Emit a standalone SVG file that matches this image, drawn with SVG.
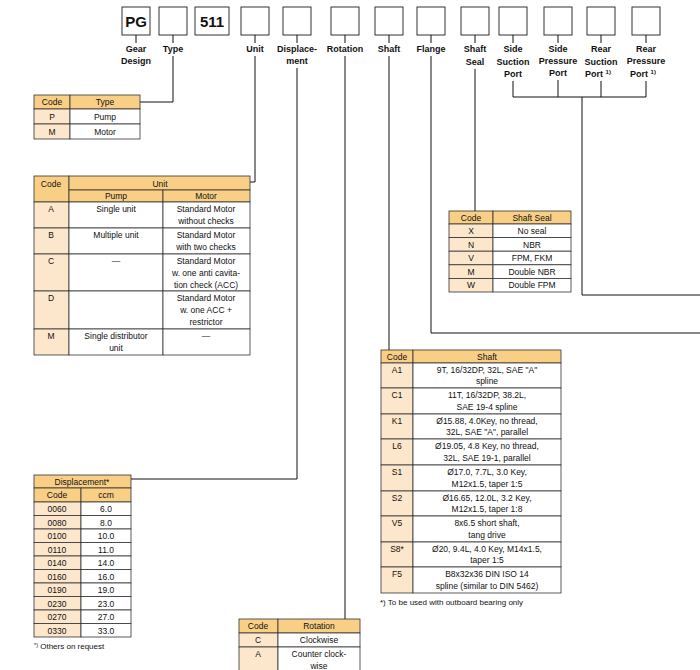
<svg xmlns="http://www.w3.org/2000/svg" width="700" height="670" viewBox="0 0 700 670">
<style>
text{font-family:"Liberation Sans",Arial,sans-serif;font-size:8.5px;fill:#111;text-anchor:middle}
.lb{font-weight:bold;font-size:9px}
.big{font-weight:bold;font-size:15px}
.bx{fill:#fff;stroke:#333;stroke-width:1}
.h{fill:#f9cf86;stroke:#333;stroke-width:0.8}
.c{fill:#fde7cc;stroke:#333;stroke-width:0.8}
.w{fill:#fff;stroke:#333;stroke-width:0.8}
.ln{fill:none;stroke:#111;stroke-width:1}
.fn{text-anchor:start;font-size:8px}
</style>
<g id="code-boxes">
<rect class="bx" x="122" y="7" width="28" height="28"/><text class="big" x="136" y="27">PG</text>
<rect class="bx" x="159" y="7" width="28" height="28"/>
<rect class="bx" x="195" y="7" width="34" height="28"/><text class="big" x="212" y="27">511</text>
<rect class="bx" x="241" y="7" width="28" height="28"/>
<rect class="bx" x="283" y="7" width="28" height="28"/>
<rect class="bx" x="331" y="7" width="28" height="28"/>
<rect class="bx" x="375" y="7" width="28" height="28"/>
<rect class="bx" x="417" y="7" width="28" height="28"/>
<rect class="bx" x="461" y="7" width="28" height="28"/>
<rect class="bx" x="499" y="7" width="28" height="28"/>
<rect class="bx" x="544" y="7" width="28" height="28"/>
<rect class="bx" x="587" y="7" width="28" height="28"/>
<rect class="bx" x="632" y="7" width="28" height="28"/>
</g>
<g id="labels">
<text class="lb" x="136" y="52">Gear</text><text class="lb" x="136" y="64">Design</text>
<text class="lb" x="173" y="52">Type</text>
<text class="lb" x="255" y="52">Unit</text>
<text class="lb" x="297" y="52">Displace-</text><text class="lb" x="297" y="64">ment</text>
<text class="lb" x="345" y="52">Rotation</text>
<text class="lb" x="389" y="52">Shaft</text>
<text class="lb" x="431" y="52">Flange</text>
<text class="lb" x="475" y="52">Shaft</text><text class="lb" x="475" y="65">Seal</text>
<text class="lb" x="513" y="52">Side</text><text class="lb" x="513" y="65">Suction</text><text class="lb" x="513" y="77">Port</text>
<text class="lb" x="558" y="52">Side</text><text class="lb" x="558" y="64">Pressure</text><text class="lb" x="558" y="76">Port</text>
<text class="lb" x="601" y="52">Rear</text><text class="lb" x="601" y="65">Suction</text><text class="lb" x="598" y="77">Port <tspan font-size="6" dy="-3">1)</tspan></text>
<text class="lb" x="646" y="52">Rear</text><text class="lb" x="646" y="64">Pressure</text><text class="lb" x="643" y="77">Port <tspan font-size="6" dy="-3">1)</tspan></text>
</g>
<g id="connectors" class="ln">
<path class="ln" d="M136 35V43M173 35V43M255 35V43M297 35V43M345 35V43M389 35V43M431 35V43M475 35V43M513 35V43M558 35V43M601 35V43M646 35V43"/>
<path class="ln" d="M173 56V102H140"/>
<path class="ln" d="M255 56V182H250"/>
<path class="ln" d="M297 68V479H131"/>
<path class="ln" d="M345 56V619"/>
<path class="ln" d="M389 56V350"/>
<path class="ln" d="M431 56V333H700"/>
<path class="ln" d="M475 69V211"/>
<path class="ln" d="M513 81V97H646V81M558 80V97M601 81V97M582 97V295H700"/>
</g>
<g id="type-table">
<rect class="h" x="34" y="95" width="36" height="14"/><rect class="h" x="70" y="95" width="70" height="14"/>
<text x="52" y="105">Code</text><text x="105" y="105">Type</text>
<rect class="c" x="34" y="109" width="36" height="15"/><rect class="w" x="70" y="109" width="70" height="15"/>
<text x="52" y="120">P</text><text x="105" y="120">Pump</text>
<rect class="c" x="34" y="124" width="36" height="15"/><rect class="w" x="70" y="124" width="70" height="15"/>
<text x="52" y="135">M</text><text x="105" y="135">Motor</text>
</g>
<g id="unit-table">
<rect class="h" x="34" y="176" width="35" height="26"/><rect class="h" x="69" y="176" width="181" height="14"/>
<rect class="h" x="69" y="190" width="94" height="12"/><rect class="h" x="163" y="190" width="87" height="12"/>
<text x="51" y="187">Code</text><text x="160" y="187">Unit</text><text x="116" y="199">Pump</text><text x="206" y="199">Motor</text>
<rect class="c" x="34" y="202" width="35" height="26"/><rect class="w" x="69" y="202" width="94" height="26"/><rect class="w" x="163" y="202" width="87" height="26"/>
<text x="51" y="212">A</text><text x="116" y="212">Single unit</text><text x="206" y="212">Standard Motor</text><text x="206" y="224">without checks</text>
<rect class="c" x="34" y="228" width="35" height="26"/><rect class="w" x="69" y="228" width="94" height="26"/><rect class="w" x="163" y="228" width="87" height="26"/>
<text x="51" y="238">B</text><text x="116" y="238">Multiple unit</text><text x="206" y="238">Standard Motor</text><text x="206" y="250">with two checks</text>
<rect class="c" x="34" y="254" width="35" height="37"/><rect class="w" x="69" y="254" width="94" height="37"/><rect class="w" x="163" y="254" width="87" height="37"/>
<text x="51" y="264">C</text><text x="116" y="264">—</text><text x="206" y="264">Standard Motor</text><text x="206" y="276">w. one anti cavita-</text><text x="206" y="288">tion check (ACC)</text>
<rect class="c" x="34" y="291" width="35" height="38"/><rect class="w" x="69" y="291" width="94" height="38"/><rect class="w" x="163" y="291" width="87" height="38"/>
<text x="51" y="301">D</text><text x="206" y="301">Standard Motor</text><text x="206" y="313">w. one ACC +</text><text x="206" y="325">restrictor</text>
<rect class="c" x="34" y="329" width="35" height="26"/><rect class="w" x="69" y="329" width="94" height="26"/><rect class="w" x="163" y="329" width="87" height="26"/>
<text x="51" y="339">M</text><text x="116" y="339">Single distributor</text><text x="116" y="351">unit</text><text x="206" y="339">—</text>
</g>
<g id="displacement-table">
<rect class="h" x="34" y="475" width="97" height="13"/><text x="82" y="485">Displacement*</text>
<rect class="h" x="34" y="488" width="47" height="14"/><rect class="h" x="81" y="488" width="50" height="14"/>
<text x="57" y="498">Code</text><text x="106" y="498">ccm</text>
<g>
<rect class="c" x="34" y="502" width="47" height="13.5"/><rect class="w" x="81" y="502" width="50" height="13.5"/>
<rect class="c" x="34" y="515.5" width="47" height="13.5"/><rect class="w" x="81" y="515.5" width="50" height="13.5"/>
<rect class="c" x="34" y="529" width="47" height="13.5"/><rect class="w" x="81" y="529" width="50" height="13.5"/>
<rect class="c" x="34" y="542.5" width="47" height="13.5"/><rect class="w" x="81" y="542.5" width="50" height="13.5"/>
<rect class="c" x="34" y="556" width="47" height="13.5"/><rect class="w" x="81" y="556" width="50" height="13.5"/>
<rect class="c" x="34" y="569.5" width="47" height="13.5"/><rect class="w" x="81" y="569.5" width="50" height="13.5"/>
<rect class="c" x="34" y="583" width="47" height="13.5"/><rect class="w" x="81" y="583" width="50" height="13.5"/>
<rect class="c" x="34" y="596.5" width="47" height="13.5"/><rect class="w" x="81" y="596.5" width="50" height="13.5"/>
<rect class="c" x="34" y="610" width="47" height="13.5"/><rect class="w" x="81" y="610" width="50" height="13.5"/>
<rect class="c" x="34" y="623.5" width="47" height="13.5"/><rect class="w" x="81" y="623.5" width="50" height="13.5"/>
</g>
<text x="57" y="512">0060</text><text x="106" y="512">6.0</text>
<text x="57" y="525.5">0080</text><text x="106" y="525.5">8.0</text>
<text x="57" y="539">0100</text><text x="106" y="539">10.0</text>
<text x="57" y="552.5">0110</text><text x="106" y="552.5">11.0</text>
<text x="57" y="566">0140</text><text x="106" y="566">14.0</text>
<text x="57" y="579.5">0160</text><text x="106" y="579.5">16.0</text>
<text x="57" y="593">0190</text><text x="106" y="593">19.0</text>
<text x="57" y="606.5">0230</text><text x="106" y="606.5">23.0</text>
<text x="57" y="620">0270</text><text x="106" y="620">27.0</text>
<text x="57" y="633.5">0330</text><text x="106" y="633.5">33.0</text>
<text class="fn" x="34" y="649"><tspan font-size="5.5" dy="-2">*)</tspan><tspan dy="2"> Others on request</tspan></text>
</g>
<g id="rotation-table">
<rect class="h" x="239" y="619" width="39" height="14"/><rect class="h" x="278" y="619" width="82" height="14"/>
<text x="258" y="629">Code</text><text x="319" y="629">Rotation</text>
<rect class="c" x="239" y="633" width="39" height="14"/><rect class="w" x="278" y="633" width="82" height="14"/>
<text x="258" y="643">C</text><text x="319" y="643">Clockwise</text>
<rect class="c" x="239" y="647" width="39" height="26"/><rect class="w" x="278" y="647" width="82" height="26"/>
<text x="258" y="657">A</text><text x="319" y="657">Counter clock-</text><text x="319" y="669">wise</text>
</g>
<g id="shaft-table">
<rect class="h" x="381" y="350" width="32" height="13"/><rect class="h" x="413" y="350" width="148" height="13"/>
<text x="397" y="360">Code</text><text x="487" y="360">Shaft</text>
<rect class="c" x="381" y="363" width="32" height="25"/><rect class="w" x="413" y="363" width="148" height="25"/>
<rect class="c" x="381" y="388" width="32" height="26"/><rect class="w" x="413" y="388" width="148" height="26"/>
<rect class="c" x="381" y="414" width="32" height="25"/><rect class="w" x="413" y="414" width="148" height="25"/>
<rect class="c" x="381" y="439" width="32" height="26"/><rect class="w" x="413" y="439" width="148" height="26"/>
<rect class="c" x="381" y="465" width="32" height="26"/><rect class="w" x="413" y="465" width="148" height="26"/>
<rect class="c" x="381" y="491" width="32" height="25"/><rect class="w" x="413" y="491" width="148" height="25"/>
<rect class="c" x="381" y="516" width="32" height="26"/><rect class="w" x="413" y="516" width="148" height="26"/>
<rect class="c" x="381" y="542" width="32" height="25"/><rect class="w" x="413" y="542" width="148" height="25"/>
<rect class="c" x="381" y="567" width="32" height="26"/><rect class="w" x="413" y="567" width="148" height="26"/>
<text x="397" y="373">A1</text><text x="487" y="373">9T, 16/32DP, 32L, SAE "A"</text><text x="487" y="384">spline</text>
<text x="397" y="398">C1</text><text x="487" y="398">11T, 16/32DP, 38.2L,</text><text x="487" y="410">SAE 19-4 spline</text>
<text x="397" y="424">K1</text><text x="487" y="424">Ø15.88, 4.0Key, no thread,</text><text x="487" y="435">32L, SAE "A", parallel</text>
<text x="397" y="449">L6</text><text x="487" y="449">Ø19.05, 4.8 Key, no thread,</text><text x="487" y="461">32L, SAE 19-1, parallel</text>
<text x="397" y="475">S1</text><text x="487" y="475">Ø17.0, 7.7L, 3.0 Key,</text><text x="487" y="487">M12x1.5,  taper 1:5</text>
<text x="397" y="501">S2</text><text x="487" y="501">Ø16.65, 12.0L, 3.2 Key,</text><text x="487" y="512">M12x1.5, taper 1:8</text>
<text x="397" y="526">V5</text><text x="487" y="526">8x6.5 short shaft,</text><text x="487" y="538">tang drive</text>
<text x="397" y="552">S8*</text><text x="487" y="552">Ø20, 9.4L, 4.0 Key, M14x1.5,</text><text x="487" y="563">taper 1:5</text>
<text x="397" y="577">F5</text><text x="487" y="577">B8x32x36 DIN ISO 14</text><text x="487" y="589">spline (similar to DIN 5462)</text>
<text class="fn" x="380" y="605">*)  To be used with outboard bearing only</text>
</g>
<g id="seal-table">
<rect class="h" x="449" y="211" width="44" height="13"/><rect class="h" x="493" y="211" width="78" height="13"/>
<text x="471" y="221">Code</text><text x="532" y="221">Shaft Seal</text>
<rect class="c" x="449" y="224" width="44" height="13.6"/><rect class="w" x="493" y="224" width="78" height="13.6"/>
<rect class="c" x="449" y="237.6" width="44" height="13.6"/><rect class="w" x="493" y="237.6" width="78" height="13.6"/>
<rect class="c" x="449" y="251.2" width="44" height="13.6"/><rect class="w" x="493" y="251.2" width="78" height="13.6"/>
<rect class="c" x="449" y="264.8" width="44" height="13.6"/><rect class="w" x="493" y="264.8" width="78" height="13.6"/>
<rect class="c" x="449" y="278.4" width="44" height="13.6"/><rect class="w" x="493" y="278.4" width="78" height="13.6"/>
<text x="471" y="234">X</text><text x="532" y="234">No seal</text>
<text x="471" y="247.6">N</text><text x="532" y="247.6">NBR</text>
<text x="471" y="261.2">V</text><text x="532" y="261.2">FPM, FKM</text>
<text x="471" y="274.8">M</text><text x="532" y="274.8">Double NBR</text>
<text x="471" y="288.4">W</text><text x="532" y="288.4">Double FPM</text>
</g>
</svg>
